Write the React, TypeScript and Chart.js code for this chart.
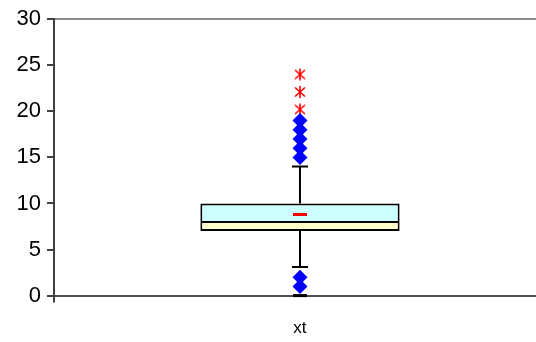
import React, { useEffect, useRef } from "react";
import { Chart, registerables } from "chart.js";

Chart.register(...registerables);

const categories = ["xt"];
const yMin = 0;
const yMax = 30;
const yStep = 5;
const boxLower = [7, 8]; // Q1 .. median
const boxUpper = [8, 10]; // median .. Q3
const whiskerLow = 3.1;
const whiskerHigh = 14;
const meanValue = 8.8;
const minValue = 0;
const mildOutliers = [1, 2, 15, 16, 17, 18, 19];
const extremeOutliers = [20.2, 22.1, 24];

function makeStar(): HTMLCanvasElement {
  const c = document.createElement("canvas");
  c.width = 14;
  c.height = 14;
  const g = c.getContext("2d")!;
  g.strokeStyle = "#ff0000";
  g.lineWidth = 1.6;
  g.beginPath();
  g.moveTo(7, 1);
  g.lineTo(7, 13);
  g.moveTo(2, 2.5);
  g.lineTo(12, 11.5);
  g.moveTo(12, 2.5);
  g.lineTo(2, 11.5);
  g.stroke();
  return c;
}

export default function App() {
  const ref = useRef<HTMLCanvasElement | null>(null);

  useEffect(() => {
    if (!ref.current) return;
    const cat = categories[0];
    const star = makeStar();
    const chart = new Chart(ref.current, {
      type: "bar",
      data: {
        labels: categories,
        datasets: [
          {
            type: "bar",
            data: [boxLower as any],
            backgroundColor: "#FFFFCC",
            borderColor: "#000000",
            borderWidth: { top: 1, left: 2, right: 2, bottom: 2 },
            borderSkipped: false,
            grouped: false,
            barPercentage: 0.405,
            categoryPercentage: 1,
            order: 5,
          } as any,
          {
            type: "bar",
            data: [boxUpper as any],
            backgroundColor: "#CCFFFF",
            borderColor: "#000000",
            borderWidth: { top: 2, left: 2, right: 2, bottom: 1 },
            borderSkipped: false,
            grouped: false,
            barPercentage: 0.405,
            categoryPercentage: 1,
            order: 5,
          } as any,
          {
            type: "line",
            data: [
              { x: cat, y: boxUpper[1] },
              { x: cat, y: whiskerHigh },
            ],
            borderColor: "#000000",
            borderWidth: 2,
            pointRadius: 0,
            order: 6,
          } as any,
          {
            type: "line",
            data: [
              { x: cat, y: boxLower[0] },
              { x: cat, y: whiskerLow },
            ],
            borderColor: "#000000",
            borderWidth: 2,
            pointRadius: 0,
            order: 6,
          } as any,
          {
            type: "line",
            showLine: false,
            data: [
              { x: cat, y: whiskerHigh },
              { x: cat, y: whiskerLow },
            ],
            pointStyle: "line",
            pointRadius: 8,
            pointBorderWidth: 2,
            pointBorderColor: "#000000",
            order: 4,
          } as any,
          {
            type: "line",
            showLine: false,
            data: [{ x: cat, y: meanValue }],
            pointStyle: "line",
            pointRadius: 7,
            pointBorderWidth: 3,
            pointBorderColor: "#FF0000",
            order: 1,
          } as any,
          {
            type: "line",
            showLine: false,
            clip: false,
            data: [{ x: cat, y: minValue }],
            pointStyle: "line",
            pointRadius: 7,
            pointBorderWidth: 3,
            pointBorderColor: "#000000",
            order: 0,
          } as any,
          {
            type: "line",
            showLine: false,
            clip: false,
            data: mildOutliers.map((v) => ({ x: cat, y: v })),
            pointStyle: "rectRot",
            pointRadius: 7.5,
            pointBorderWidth: 0,
            pointBackgroundColor: "#0000FF",
            pointBorderColor: "#0000FF",
            order: 2,
          } as any,
          {
            type: "line",
            showLine: false,
            data: extremeOutliers.map((v) => ({ x: cat, y: v })),
            pointStyle: star,
            pointRadius: 7,
            order: 3,
          } as any,
        ],
      },
      options: {
        responsive: false,
        animation: false,
        events: [],
        layout: { autoPadding: false, padding: { left: 10.5, top: 9, right: 0, bottom: 0 } },
        plugins: { legend: { display: false }, tooltip: { enabled: false } },
        scales: {
          x: {
            type: "category",
            offset: true,
            grid: {
              offset: true,
              drawOnChartArea: false,
              tickLength: 7,
              color: "#404040",
              lineWidth: 2,
            },
            border: { color: "#505050", width: 2 },
            ticks: {
              color: "#000000",
              padding: 16,
              font: { family: "'Liberation Sans', Arial, sans-serif", size: 17 },
            },
          },
          x2: {
            type: "category",
            position: "top",
            labels: categories,
            grid: { display: false },
            ticks: { display: false },
            border: { color: "#8c8c8c", width: 2 },
          },
          y: {
            min: yMin,
            max: yMax,
            ticks: {
              stepSize: yStep,
              color: "#000000",
              padding: 6,
              font: { family: "'Liberation Sans', Arial, sans-serif", size: 22 },
            },
            grid: {
              drawOnChartArea: false,
              tickLength: 7,
              color: "#404040",
              lineWidth: 2,
            },
            border: { color: "#404040", width: 2 },
          },
        },
      },
    });
    return () => chart.destroy();
  }, []);

  return (
    <div
      style={{
        position: "fixed",
        left: 0,
        top: 0,
        width: 536,
        height: 342,
        overflow: "hidden",
        background: "#ffffff",
      }}
    >
      <canvas ref={ref} width={546} height={355} style={{ display: "block", width: 546, height: 355 }} />
    </div>
  );
}
